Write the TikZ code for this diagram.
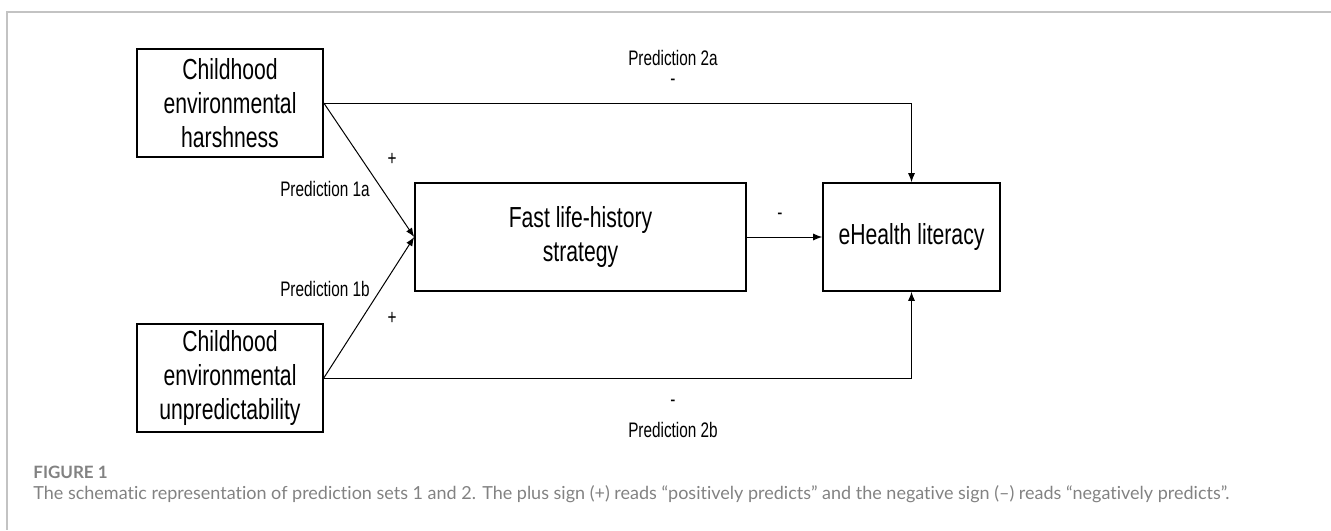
\documentclass[tikz,border=0pt]{standalone}
\usepackage{fontspec}
\setmainfont[FakeStretch=0.73]{Liberation Sans}
\newfontfamily\capfont[Ligatures=NoCommon]{Lato}
\usetikzlibrary{arrows.meta}
\definecolor{framegray}{RGB}{195,195,195}
\definecolor{capgray}{RGB}{130,130,130}

\begin{document}
\begin{tikzpicture}[x=0.5pt, y=-0.5pt,
    box/.style={draw, line width=0.8pt, inner sep=0pt, align=center, minimum height=54pt, font=\fontsize{14.5}{17}\selectfont},
    lbl/.style={inner sep=0pt, font=\fontsize{10.5}{12}\selectfont},
    arr/.style={line width=0.5pt, -{Latex[length=4.5pt, width=3.5pt]}}]
    \useasboundingbox (0,0) rectangle (1331,530);
    \draw[framegray, line width=0.8pt] (1331,12) -- (7,12) -- (7,530);

    % boxes
    \node[box, minimum width=93pt] (harsh) at (230,103) {Childhood\\environmental\\harshness};
    \node[box, minimum width=93pt] (unpred) at (230,378) {Childhood\\environmental\\unpredictability};
    \node[box, minimum width=165.5pt] (fast) at (580.5,237) {Fast life-history\\strategy};
    \node[box, minimum width=88.5pt] (ehealth) at (911.5,237) {eHealth literacy};

    % connectors
    \draw[arr] (harsh.east) -- (fast.west);
    \draw[arr] (unpred.east) -- (fast.west);
    \draw[arr] (fast.east) -- (ehealth.west);
    \draw[arr] (harsh.east) -| (ehealth.north);
    \draw[arr] (unpred.east) -| (ehealth.south);

    % labels
    \node[lbl] (pred2a) at (673,58) {Prediction 2a};
    \node[lbl] (sign2a) at (673,82) {-};
    \node[lbl] (sign1a) at (392,159) {+};
    \node[lbl] (pred1a) at (325,189) {Prediction 1a};
    \node[lbl] (pred1b) at (325,289) {Prediction 1b};
    \node[lbl] (sign1b) at (392,318) {+};
    \node[lbl] (sign3) at (780,216) {-};
    \node[lbl] (sign2b) at (673,403) {-};
    \node[lbl] (pred2b) at (673,430) {Prediction 2b};

    % caption
    \node[anchor=west, inner sep=0pt, capgray, font=\capfont\bfseries\fontsize{8.5}{9}\selectfont] (figno) at (33,472) {FIGURE 1};
    \node[anchor=west, inner sep=0pt, capgray, font=\capfont\fontsize{9}{10}\selectfont] (caption) at (33,494) {The schematic representation of prediction sets 1 and 2. The plus sign (+) reads “positively predicts” and the negative sign (–) reads “negatively predicts”.};
\end{tikzpicture}
\end{document}
